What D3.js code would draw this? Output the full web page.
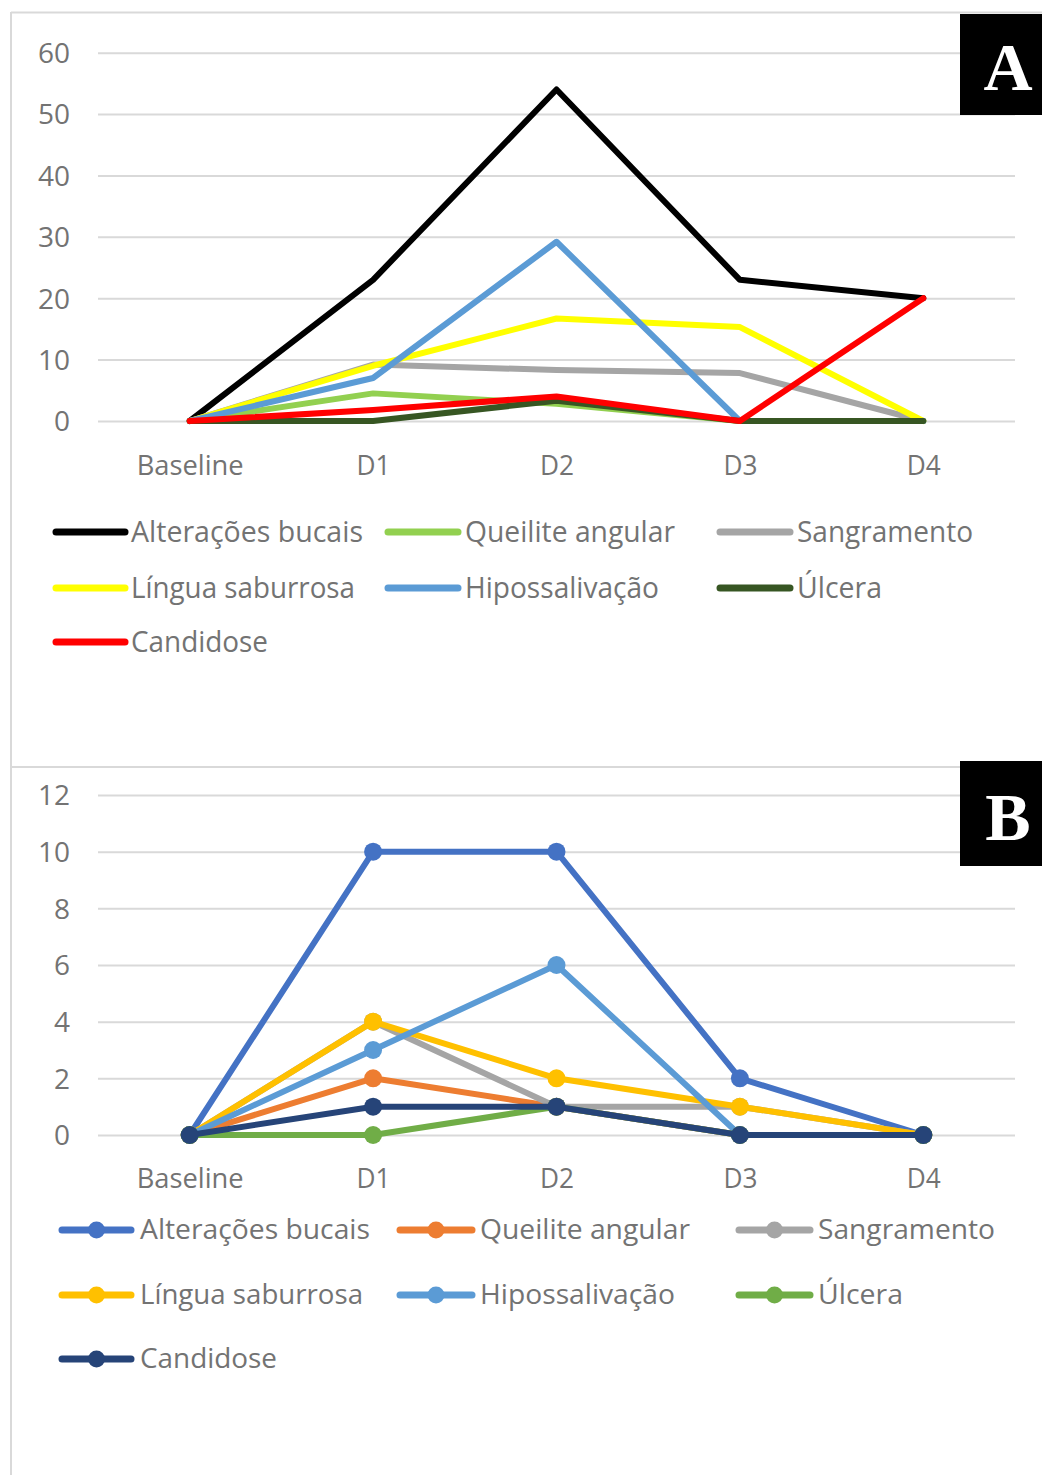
<!DOCTYPE html>
<html><head><meta charset="utf-8">
<script src="https://cdn.jsdelivr.net/npm/d3@7"></script>
<style>html,body{margin:0;padding:0;background:#fff;}svg{display:block;}</style>
</head><body>
<script>
const categories = ["Baseline","D1","D2","D3","D4"];
const seriesNames = ["Alterações bucais","Queilite angular","Sangramento","Língua saburrosa","Hipossalivação","Úlcera","Candidose"];
// Panel A values
const aAlteracoes = [0,23,54,23,20];
const aQueilite   = [0,4.5,2.8,0,0];
const aSangramento= [0,9.2,8.3,7.8,0];
const aLingua     = [0,9,16.7,15.3,0];
const aHipossal   = [0,7,29.2,0,0];
const aUlcera     = [0,0,3.3,0,0];
const aCandidose  = [0,1.8,4,0,20];
const aTicks = [0,10,20,30,40,50,60];
// Panel B values
const bAlteracoes = [0,10,10,2,0];
const bQueilite   = [0,2,1,0,0];
const bSangramento= [0,4,1,1,0];
const bLingua     = [0,4,2,1,0];
const bHipossal   = [0,3,6,0,0];
const bUlcera     = [0,0,1,0,0];
const bCandidose  = [0,1,1,0,0];
const bTicks = [0,2,4,6,8,10,12];

const colorsA = ["#000000","#92D050","#A5A5A5","#FFFF00","#5B9BD5","#375623","#FF0000"];
const colorsB = ["#4472C4","#ED7D31","#A5A5A5","#FFC000","#5B9BD5","#70AD47","#264478"];

const W=1042,H=1475;
const svg=d3.select("body").append("svg").attr("width",W).attr("height",H);
const borderC="#d9d9d9", gridC="#d9d9d9", textC="#737373";
const FONT="'Open Sans', sans-serif";

// frame
svg.append("line").attr("x1",11).attr("x2",W).attr("y1",12.5).attr("y2",12.5).attr("stroke",borderC).attr("stroke-width",2);
svg.append("line").attr("x1",11).attr("x2",11).attr("y1",12).attr("y2",H).attr("stroke",borderC).attr("stroke-width",2);
svg.append("line").attr("x1",11).attr("x2",W).attr("y1",767).attr("y2",767).attr("stroke",borderC).attr("stroke-width",2);

const x=d3.scalePoint().domain(categories).range([98,1015]).padding(0.5);

const labelWidths = {"Baseline":107,"D1":34,"D2":34,"D3":34,"D4":34};

function panel(cfg){
  const y=d3.scaleLinear().domain(cfg.domain).range(cfg.yRange);
  const g=svg.append("g");
  // grid
  const grid=g.append("g").attr("transform","translate(98,0)")
    .call(d3.axisLeft(y).tickValues(cfg.ticks).tickSize(-(1015-98)).tickFormat(""));
  grid.select(".domain").remove();
  grid.selectAll("line").attr("stroke",gridC).attr("stroke-width",2);
  // y labels
  const ya=g.append("g").attr("transform","translate(70,0)")
    .call(d3.axisLeft(y).tickValues(cfg.ticks).tickSize(0).tickPadding(0).tickFormat(d3.format("d")));
  ya.select(".domain").remove();
  ya.selectAll("text").attr("font-family",FONT).attr("font-size",28).attr("fill",textC).attr("dy","0.35em");
  // x labels
  const xa=g.append("g").attr("transform",`translate(0,${cfg.xLabelY})`)
    .call(d3.axisBottom(x).tickSize(0).tickPadding(0));
  xa.select(".domain").remove();
  xa.selectAll("text").attr("font-family",FONT).attr("font-size",28).attr("fill",textC)
    .attr("dy","0.35em").attr("y",0)
    .attr("textLength",d=>labelWidths[d]).attr("lengthAdjust","spacingAndGlyphs");
  // lines
  const line=d3.line().x((d,i)=>x(categories[i])).y(d=>y(d));
  cfg.series.forEach((s,k)=>{
    g.append("path").datum(s).attr("d",line).attr("fill","none")
      .attr("stroke",cfg.colors[k]).attr("stroke-width",cfg.lw).attr("stroke-linejoin","round").attr("stroke-linecap","round");
    if(cfg.markers){
      g.selectAll(null).data(s).enter().append("circle")
        .attr("cx",(d,i)=>x(categories[i])).attr("cy",d=>y(d)).attr("r",9).attr("fill",cfg.colors[k]);
    }
  });
  // legend
  const L=cfg.legend;
  seriesNames.forEach((n,k)=>{
    const col=k%3,row=Math.floor(k/3);
    const ly=L.rows[row];
    const [x1,x2,tx]=L.cols[col];
    g.append("line").attr("x1",x1).attr("x2",x2).attr("y1",ly).attr("y2",ly)
      .attr("stroke",cfg.colors[k]).attr("stroke-width",L.lw).attr("stroke-linecap","round");
    if(cfg.markers){
      g.append("circle").attr("cx",(x1+x2)/2).attr("cy",ly).attr("r",8.5).attr("fill",cfg.colors[k]);
    }
    g.append("text").attr("x",tx).attr("y",ly).attr("dy","0.35em").text(n)
      .attr("font-family",FONT).attr("font-size",L.fs).attr("fill",textC)
      .attr("textLength",L.widths[k]).attr("lengthAdjust","spacingAndGlyphs");
  });
  // label box
  g.append("rect").attr("x",960).attr("y",cfg.box[0]).attr("width",82).attr("height",cfg.box[1]-cfg.box[0]).attr("fill","#000");
  g.append("text").attr("x",1008).attr("y",cfg.box[2]).attr("text-anchor","middle").text(cfg.letter)
    .attr("font-family","'Liberation Serif','Times New Roman',serif").attr("font-weight","bold").attr("font-size",68).attr("fill","#fff");
}

panel({
  domain:[0,60], yRange:[421,52.7], ticks:aTicks, xLabelY:465,
  series:[aAlteracoes,aQueilite,aSangramento,aLingua,aHipossal,aUlcera,aCandidose],
  colors:colorsA, lw:6, markers:false,
  legend:{rows:[532,588,642], cols:[[56,125,131],[388,458,465],[720,790,797]], lw:7, fs:29,
    widths:[232,210,176,224,194,85,137]},
  box:[14,115,90], letter:"A"
});
panel({
  domain:[0,12], yRange:[1135,795], ticks:bTicks, xLabelY:1178,
  series:[bAlteracoes,bQueilite,bSangramento,bLingua,bHipossal,bUlcera,bCandidose],
  colors:colorsB, lw:6, markers:true,
  legend:{rows:[1230,1295,1359], cols:[[62,131,140],[400,472,480],[739,810,818]], lw:7, fs:27,
    widths:[230,210,177,223,195,85,137]},
  box:[761,866,840], letter:"B"
});
</script>
</body></html>
